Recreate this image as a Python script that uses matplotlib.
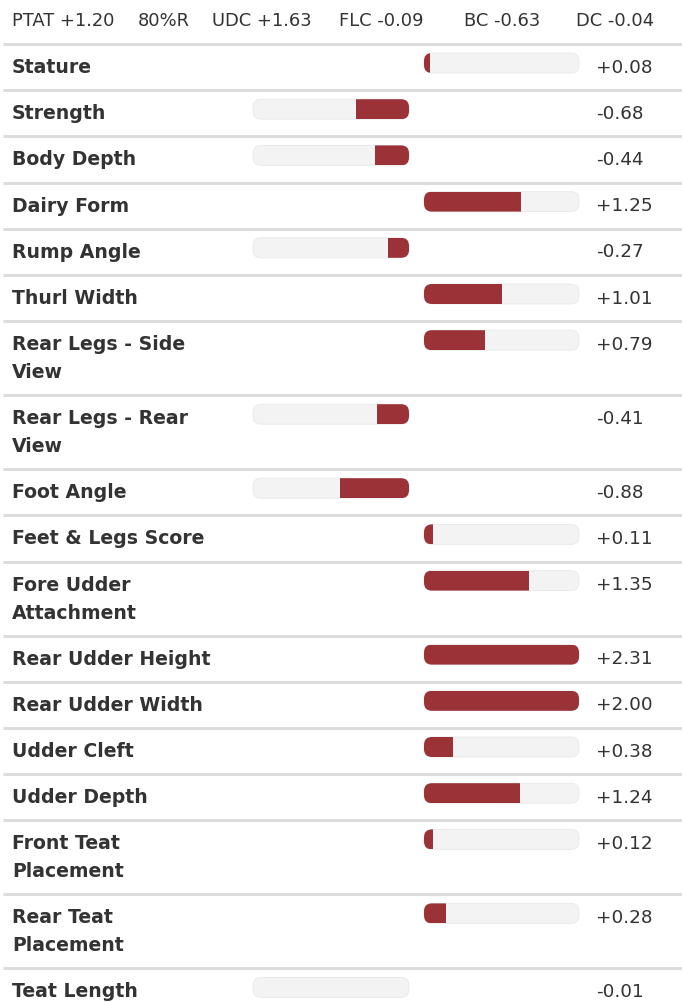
import matplotlib
matplotlib.use("Agg")
import matplotlib.pyplot as plt
from matplotlib.patches import FancyBboxPatch, Rectangle

# header summary
header_items = ["PTAT +1.20", "80%R", "UDC +1.63", "FLC -0.09", "BC -0.63", "DC -0.04"]
header_x = [12, 138, 212, 339, 464, 576]

# trait rows
traits = ["Stature", "Strength", "Body Depth", "Dairy Form", "Rump Angle",
          "Thurl Width", "Rear Legs - Side\nView", "Rear Legs - Rear\nView",
          "Foot Angle", "Feet & Legs Score", "Fore Udder\nAttachment",
          "Rear Udder Height", "Rear Udder Width", "Udder Cleft", "Udder Depth",
          "Front Teat\nPlacement", "Rear Teat\nPlacement", "Teat Length"]
values = [0.08, -0.68, -0.44, 1.25, -0.27, 1.01, 0.79, -0.41, -0.88, 0.11,
          1.35, 2.31, 2.00, 0.38, 1.24, 0.12, 0.28, -0.01]

SCALE_MAX = 2.0
FILL = "#9a3237"
TRACK = "#f3f3f3"
LINE = "#dddddd"
TEXT = "#333333"

W, H = 682, 1003
fig = plt.figure(figsize=(W / 100, H / 100), dpi=100)
ax = fig.add_axes([0, 0, 1, 1])
ax.set_xlim(0, W)
ax.set_ylim(H, 0)
ax.axis("off")

for txt, x in zip(header_items, header_x):
    ax.text(x, 21, txt, fontsize=12.9, color=TEXT, va="center", ha="left",
            family="DejaVu Sans")

ax.plot([3, W], [45, 45], color=LINE, lw=2.2, solid_capstyle="butt")

pos_x0, pos_x1 = 424, 579
neg_x0, neg_x1 = 253, 409
bar_h = 20
rad = 8


def draw_bar(x0, x1, y, val, positive):
    track = FancyBboxPatch((x0, y), x1 - x0, bar_h,
                           boxstyle=f"round,pad=0,rounding_size={rad}",
                           fc=TRACK, ec="#e9e9e9", lw=0.6, zorder=2)
    ax.add_patch(track)
    frac = min(abs(val), SCALE_MAX) / SCALE_MAX
    wfill = (x1 - x0) * frac
    if wfill < 1:
        return
    fx = x0 if positive else x1 - wfill
    fill = Rectangle((fx, y), wfill, bar_h, fc=FILL, ec="none", zorder=3)
    ax.add_patch(fill)
    fill.set_clip_path(track)


y = 45
for name, val in zip(traits, values):
    lines = name.split("\n")
    row_h = 46.2 + 27.8 * (len(lines) - 1)
    for i, ln in enumerate(lines):
        ax.text(12, y + 22.5 + 28 * i, ln, fontsize=13.6, fontweight="bold",
                color=TEXT, va="center", ha="left", family="DejaVu Sans")
    if val >= 0:
        draw_bar(pos_x0, pos_x1, y + 9, val, True)
    else:
        draw_bar(neg_x0, neg_x1, y + 9, val, False)
    ax.text(596, y + 22.5, f"{val:+.2f}", fontsize=13.2, color=TEXT,
            va="center", ha="left", family="DejaVu Sans")
    y += row_h
    if y < H:
        ax.plot([3, W], [y, y], color=LINE, lw=2.2, solid_capstyle="butt")

fig.savefig("out.png", dpi=100, facecolor="white")
